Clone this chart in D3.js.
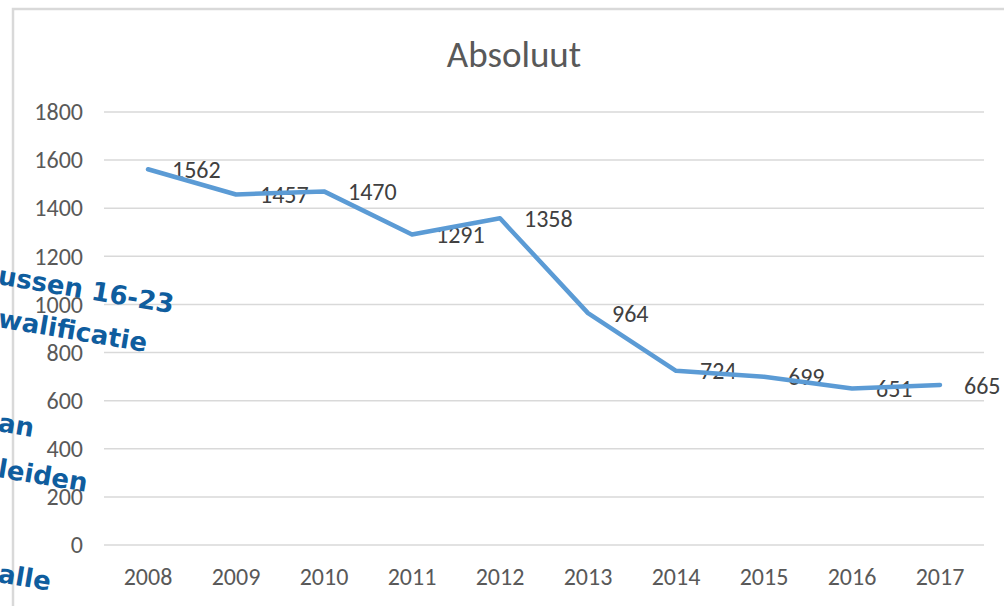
<!DOCTYPE html>
<html>
<head>
<meta charset="utf-8">
<script src="https://cdn.jsdelivr.net/npm/d3@7"></script>
<style>
  body { margin: 0; background: #fff; }
  svg { display: block; }
  .axis text { font-family: Carlito, "Liberation Sans", Arial, sans-serif; font-size: 24px; fill: #595959; }
  .axis path, .axis line { display: none; }
  .grid line { stroke: #d9d9d9; stroke-width: 1.5; }
  .lbl { font-family: Carlito, "Liberation Sans", Arial, sans-serif; font-size: 24px; fill: #404040; }
  .overlay text { font-family: "DejaVu Sans", Verdana, sans-serif; font-weight: bold; font-size: 26px; fill: #0f5d9e; }
</style>
</head>
<body>
<div id="chart"></div>
<script>
// data
const years = ["2008", "2009", "2010", "2011", "2012", "2013", "2014", "2015", "2016", "2017"];
const values = [1562, 1457, 1470, 1291, 1358, 964, 724, 699, 651, 665];
const yTicks = [0, 200, 400, 600, 800, 1000, 1200, 1400, 1600, 1800];

// pieces of slide text that overlap the chart
const overlayTexts = ["ussen 16-23", "walificatie", "an", "leiden", "alle"];
const overlayPos = [[-3, 284, 9.5], [-3, 327, 9.5], [-3, 431, 9.5], [-3, 477, 9.5], [-3, 582, 9.5]];

const W = 1004, H = 606;
const margin = {top: 112, left: 104, right: 20, bottom: 61};
const width = W - margin.left - margin.right;
const height = H - margin.top - margin.bottom;

const svg = d3.select("#chart").append("svg")
    .attr("width", W)
    .attr("height", H);

// chart frame (only top and left edges visible)
svg.append("path")
    .attr("d", `M13,${H} V9 H${W}`)
    .attr("fill", "none")
    .attr("stroke", "#d9d9d9")
    .attr("stroke-width", 2.5);

// title
svg.append("text")
    .attr("x", 514)
    .attr("y", 67)
    .attr("text-anchor", "middle")
    .style("font-family", "Carlito, 'Liberation Sans', Arial, sans-serif")
    .style("font-size", "37px")
    .style("fill", "#595959")
    .text("Absoluut");

const g = svg.append("g")
    .attr("transform", `translate(${margin.left}, ${margin.top})`);

// scales
const x = d3.scaleBand()
    .domain(years)
    .range([0, width]);

const y = d3.scaleLinear()
    .domain([0, 1800])
    .range([height, 0]);

// gridlines
g.append("g")
    .attr("class", "grid")
    .selectAll("line")
    .data(yTicks)
    .enter().append("line")
    .attr("x1", 0)
    .attr("x2", width)
    .attr("y1", d => y(d))
    .attr("y2", d => y(d));

// y axis
g.append("g")
    .attr("class", "axis y-axis")
    .call(d3.axisLeft(y).tickValues(yTicks).tickFormat(d3.format("d")).tickSize(0).tickPadding(21));

// x axis
g.append("g")
    .attr("class", "axis x-axis")
    .attr("transform", `translate(0, ${height})`)
    .call(d3.axisBottom(x).tickSize(0).tickPadding(23));

const cx = d => x(d) + x.bandwidth() / 2;

// data labels (right of points)
g.selectAll(".lbl")
    .data(values)
    .enter().append("text")
    .attr("class", "lbl")
    .attr("x", (d, i) => cx(years[i]) + 24)
    .attr("y", d => y(d))
    .attr("dy", "0.36em")
    .text(d => d);

// line
const line = d3.line()
    .x((d, i) => cx(years[i]))
    .y(d => y(d));

g.append("path")
    .datum(values)
    .attr("fill", "none")
    .attr("stroke", "#5b9bd5")
    .attr("stroke-width", 4.5)
    .attr("stroke-linejoin", "round")
    .attr("stroke-linecap", "round")
    .attr("d", line);

// overlapping slide text
svg.append("g")
    .attr("class", "overlay")
    .selectAll("text")
    .data(overlayTexts)
    .enter().append("text")
    .attr("transform", (d, i) => `translate(${overlayPos[i][0]}, ${overlayPos[i][1]}) rotate(${overlayPos[i][2]})`)
    .text(d => d);
</script>
</body>
</html>
